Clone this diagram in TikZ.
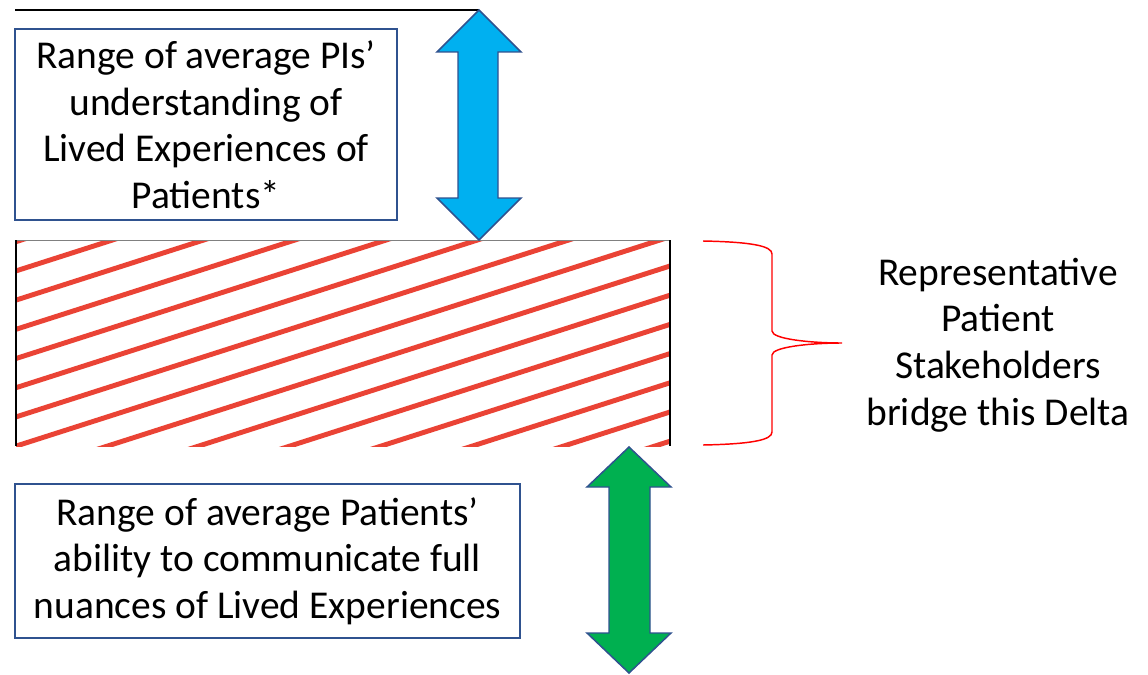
\documentclass[tikz,border=0pt]{standalone}
\usepackage{fontspec}
\setmainfont{Carlito}
\definecolor{boxblue}{RGB}{47,82,143}
\definecolor{skyfill}{RGB}{0,176,240}
\definecolor{greenfill}{RGB}{0,176,80}
\definecolor{hatchred}{RGB}{234,67,53}
\tikzset{
  txtbox/.style={draw=boxblue, line width=1.1pt, fill=white, inner sep=0pt, align=center,
    font=\fontsize{29.6}{34.9}\selectfont},
  plaintxt/.style={inner sep=0pt, align=center, font=\fontsize{29.6}{34.9}\selectfont},
  arrowshape/.style={draw=boxblue, line width=1.1pt, line join=miter},
  hatchline/.style={draw=hatchred, line width=3.7pt},
  brace/.style={draw=red, line width=1.1pt}
}
\begin{document}
\begin{tikzpicture}[x=0.75pt,y=-0.75pt]
\useasboundingbox (0,0) rectangle (1148,674);
% top line
\coordinate (tl) at (15,10);
\coordinate (bluetip) at (479,10);
\draw[black, line width=0.8pt] (tl) -- (bluetip);
% hatched band
\begin{scope}
\clip (16,240) rectangle (670,446);
\foreach \k in {-6,...,10} {
  \draw[hatchline] (16,{387.7+29.2*\k}) -- (670,{178.4+29.2*\k});
}
\end{scope}
\draw[gray, line width=0.7pt] (16,240) -- (670,240);
\draw[black, line width=1.2pt] (16,240) -- (16,446);
\draw[black, line width=1.2pt] (670,240) -- (670,446);
% blue double arrow
\draw[arrowshape, fill=skyfill] (479,10) -- (521,52) -- (498,52) -- (498,198) -- (521,198)
  -- (479,240) -- (437,198) -- (458,198) -- (458,52) -- (437,52) -- cycle;
% green double arrow
\draw[arrowshape, fill=greenfill] (629,447) -- (671,487) -- (650,487) -- (650,633) -- (671,633)
  -- (629,673) -- (587,633) -- (609,633) -- (609,487) -- (587,487) -- cycle;
% brace
\draw[brace] (703,241) .. controls (752,242) and (772,246) .. (772,254) -- (772,331)
  .. controls (772,339) and (810,343) .. (842,343)
  .. controls (810,343) and (772,347) .. (772,355) -- (772,432)
  .. controls (772,440) and (752,444) .. (703,445);
% text boxes
\node[txtbox, minimum width=286.5pt, minimum height=143.25pt] (box1) at (206,124.5)
  {Range of average PIs’\\understanding of\\Lived Experiences of\\Patients*};
\node[txtbox, minimum width=378.75pt, minimum height=115.5pt] (box2) at (267.5,561)
  {Range of average Patients’\\ability to communicate full\\nuances of Lived Experiences};
\node[plaintxt] (label) at (998,345)
  {Representative\\Patient\\Stakeholders\\bridge this Delta};
\end{tikzpicture}
\end{document}
